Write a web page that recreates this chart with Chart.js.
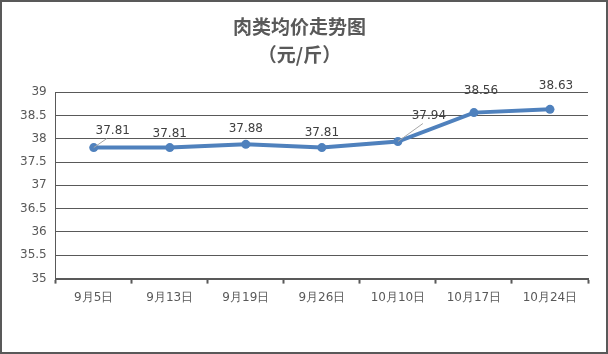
<!DOCTYPE html>
<html>
<head>
<meta charset="utf-8">
<script src="https://cdn.jsdelivr.net/npm/chart.js@4/dist/chart.umd.min.js"></script>
<style>
    html, body { margin: 0; padding: 0; background: #fff; }
    #wrap {
        width: 604px; height: 350px;
        border: 2px solid #595959;
        position: relative;
    }
</style>
</head>
<body>
<div id="wrap"><canvas id="chart"></canvas></div>
<script>
const titleLines = ['肉类均价走势图', '（元/斤）'];
const categories = ['9月5日', '9月13日', '9月19日', '9月26日', '10月10日', '10月17日', '10月24日'];
const prices = [37.81, 37.81, 37.88, 37.81, 37.94, 38.56, 38.63];
const yTicks = [35, 35.5, 36, 36.5, 37, 37.5, 38, 38.5, 39];

// label offsets from the point, plus optional leader line
const labelOffsets = [
    {dx: 19, dy: -17, leader: true},
    {dx: 0, dy: -14},
    {dx: 0, dy: -15},
    {dx: 0, dy: -15},
    {dx: 31, dy: -26, leader: true},
    {dx: 7, dy: -22},
    {dx: 6, dy: -23},
];

const pointLabels = {
    id: 'pointLabels',
    afterDatasetsDraw: function(chart) {
        'use strict';
        const ctx = chart.ctx;
        const meta = chart.getDatasetMeta(0);
        ctx.save();
        ctx.font = '12px "DejaVu Sans", sans-serif';
        ctx.fillStyle = '#404040';
        ctx.textAlign = 'center';
        ctx.textBaseline = 'middle';
        meta.data.forEach(function(pt, i) {
            const off = labelOffsets[i];
            const x = pt.x + off.dx;
            const y = pt.y + off.dy;
            if (off.leader) {
                ctx.strokeStyle = '#a6a6a6';
                ctx.lineWidth = 1;
                ctx.beginPath();
                ctx.moveTo(pt.x, pt.y);
                ctx.lineTo(x - 6, y + 8);
                ctx.stroke();
            }
            ctx.fillText(prices[i].toFixed(2), x, y);
        });
        ctx.restore();
    },
};

new Chart(document.getElementById('chart'), {
    type: 'line',
    data: {
        labels: categories,
        datasets: [{
            data: prices,
            borderColor: '#4F81BD',
            backgroundColor: '#4F81BD',
            borderWidth: 4,
            pointRadius: 4.5,
            pointHoverRadius: 4.5,
            pointBorderWidth: 0,
            tension: 0,
        }],
    },
    options: {
        responsive: true,
        maintainAspectRatio: false,
        animation: false,
        layout: {padding: {left: 9, right: 18, top: 0, bottom: 40}},
        plugins: {
            legend: {display: false},
            tooltip: {enabled: false},
            title: {
                display: true,
                text: titleLines,
                color: '#595959',
                font: {family: '"Noto Sans CJK SC", sans-serif', size: 19, weight: 'bold', lineHeight: 1.45},
                padding: {top: 11, bottom: 24},
            },
        },
        scales: {
            x: {
                offset: true,
                grid: {
                    offset: true,
                    drawOnChartArea: false,
                    drawTicks: true,
                    tickLength: 5,
                    tickWidth: 2,
                    tickColor: '#595959',
                },
                border: {color: '#595959', width: 2},
                ticks: {
                    color: '#595959',
                    padding: 7,
                    font: {family: '"DejaVu Sans", sans-serif', size: 12},
                },
            },
            y: {
                min: yTicks[0],
                max: yTicks[yTicks.length - 1],
                afterBuildTicks: function(axis) {
                    axis.ticks = yTicks.map(function(v) { return {value: v}; });
                },
                grid: {
                    color: '#595959',
                    lineWidth: 1,
                    drawTicks: false,
                },
                border: {color: '#595959', width: 1},
                ticks: {
                    color: '#595959',
                    padding: 9,
                    font: {family: '"DejaVu Sans", sans-serif', size: 12},
                    callback: function(value) { return String(value); },
                },
            },
        },
    },
    plugins: [pointLabels],
});
</script>
</body>
</html>
